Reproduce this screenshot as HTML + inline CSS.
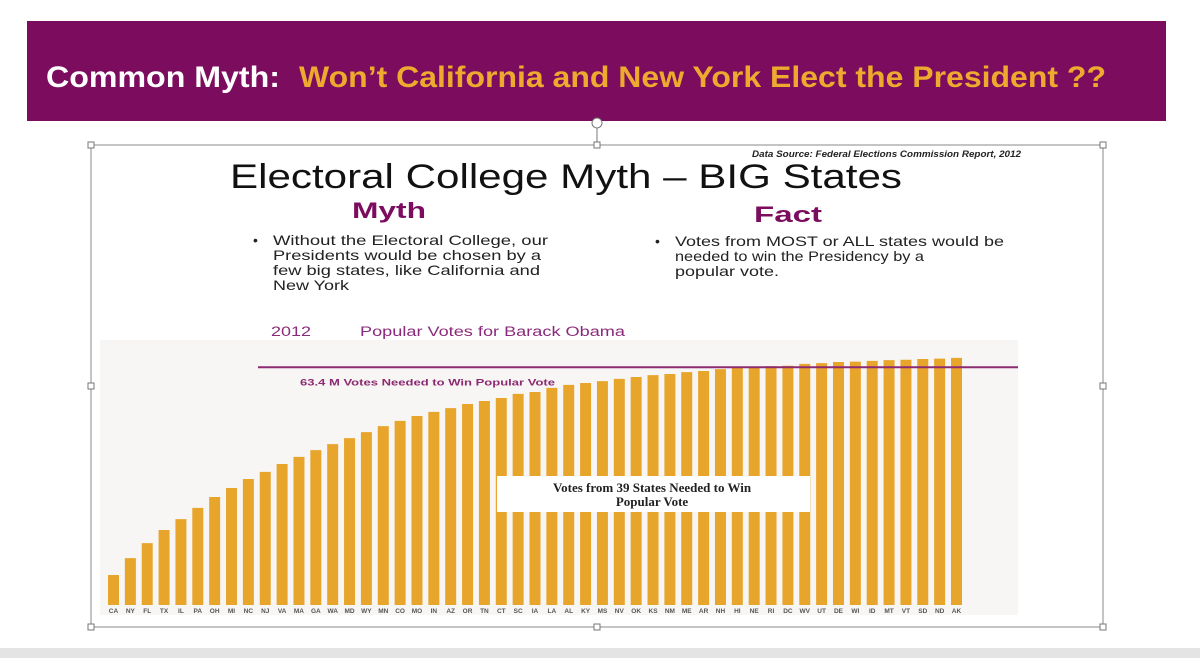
<!DOCTYPE html>
<html><head><meta charset="utf-8"><style>
html,body{margin:0;padding:0;background:#fff;}
svg{display:block;font-family:"Liberation Sans",sans-serif;}
</style></head><body>
<svg id="s" width="1200" height="658" viewBox="0 0 1200 658">
<rect x="0" y="0" width="1200" height="658" fill="#fff"/>
<rect x="0" y="648" width="1200" height="10" fill="#e4e4e4"/>
<rect x="27" y="21" width="1139" height="100" fill="#7b0c5e"/>
<text x="46" y="87" font-size="30" font-weight="bold" fill="#fff" textLength="234" lengthAdjust="spacingAndGlyphs">Common Myth:</text>
<text x="299" y="87" font-size="30" font-weight="bold" fill="#eeaa2e" textLength="807" lengthAdjust="spacingAndGlyphs">Won’t California and New York Elect the President ??</text>
<rect x="91" y="145" width="1012" height="482" fill="#fff" stroke="#888" stroke-width="1"/>
<g fill="#fff" stroke="#777" stroke-width="1">
<rect x="88" y="142" width="6" height="6"/><rect x="594" y="142" width="6" height="6"/><rect x="1100" y="142" width="6" height="6"/>
<rect x="88" y="383" width="6" height="6"/><rect x="1100" y="383" width="6" height="6"/>
<rect x="88" y="624" width="6" height="6"/><rect x="594" y="624" width="6" height="6"/><rect x="1100" y="624" width="6" height="6"/>
<line x1="597" y1="128" x2="597" y2="142"/><circle cx="597" cy="123" r="5"/>
</g>
<text x="752" y="157" font-size="9" font-style="italic" font-weight="bold" fill="#222" textLength="269" lengthAdjust="spacingAndGlyphs">Data Source: Federal Elections Commission Report, 2012</text>
<text x="230" y="188" font-size="34" fill="#111" textLength="672" lengthAdjust="spacingAndGlyphs">Electoral College Myth – BIG States</text>
<text x="352" y="218" font-size="22" font-weight="bold" fill="#7b0c5e" textLength="74" lengthAdjust="spacingAndGlyphs">Myth</text>
<text x="754" y="222" font-size="22" font-weight="bold" fill="#7b0c5e" textLength="68" lengthAdjust="spacingAndGlyphs">Fact</text>
<g font-size="14" fill="#222">
<text x="253" y="245">•</text>
<text x="273" y="245" textLength="275" lengthAdjust="spacingAndGlyphs">Without the Electoral College, our</text>
<text x="273" y="260" textLength="268" lengthAdjust="spacingAndGlyphs">Presidents would be chosen by a</text>
<text x="273" y="275" textLength="267" lengthAdjust="spacingAndGlyphs">few big states, like California and</text>
<text x="273" y="290" textLength="76" lengthAdjust="spacingAndGlyphs">New York</text>
</g>
<g font-size="14" fill="#222">
<text x="655" y="246">•</text>
<text x="675" y="246" textLength="329" lengthAdjust="spacingAndGlyphs">Votes from MOST or ALL states would be</text>
<text x="675" y="261" textLength="249" lengthAdjust="spacingAndGlyphs">needed to win the Presidency by a</text>
<text x="675" y="276" textLength="104" lengthAdjust="spacingAndGlyphs">popular vote.</text>
</g>
<text x="271" y="336" font-size="13.5" fill="#8a2a7a" textLength="40" lengthAdjust="spacingAndGlyphs">2012</text>
<text x="360" y="336" font-size="13.5" fill="#8a2a7a" textLength="265" lengthAdjust="spacingAndGlyphs">Popular Votes for Barack Obama</text>
<rect x="100" y="340" width="918" height="275" fill="#f7f6f4"/>
<g id="bars"></g>
<g id="xlabels" font-size="6.5" font-weight="bold" fill="#555" text-anchor="middle"></g>
<line id="thr" x1="258" x2="1018" stroke="#8c2a72" stroke-width="2"/>
<text id="thrLabel" x="300" font-size="9.5" font-weight="bold" fill="#8c2a72" textLength="255" lengthAdjust="spacingAndGlyphs">63.4 M Votes Needed to Win Popular Vote</text>
<rect x="497" y="476" width="313" height="36" fill="#fff"/>
<g font-family="Liberation Serif, serif" font-size="13" font-weight="bold" fill="#222" text-anchor="middle">
<text x="652" y="492">Votes from 39 States Needed to Win</text>
<text x="652" y="506">Popular Vote</text>
</g>
</svg>
<script>
const states = ["CA","NY","FL","TX","IL","PA","OH","MI","NC","NJ","VA","MA","GA","WA","MD","WY","MN","CO","MO","IN","AZ","OR","TN","CT","SC","IA","LA","AL","KY","MS","NV","OK","KS","NM","ME","AR","NH","HI","NE","RI","DC","WV","UT","DE","WI","ID","MT","VT","SD","ND","AK"];
const cumulativeVotesM = [8.0,12.5,16.5,20.0,22.9,25.9,28.8,31.2,33.6,35.5,37.6,39.5,41.3,42.9,44.5,46.1,47.7,49.1,50.4,51.5,52.5,53.6,54.4,55.2,56.3,56.8,57.9,58.7,59.2,59.7,60.3,60.8,61.3,61.6,62.1,62.4,62.9,63.2,63.5,63.7,63.8,64.3,64.5,64.8,64.9,65.1,65.3,65.4,65.6,65.7,65.9];
const thresholdM = [63.4];
const NS = "http://www.w3.org/2000/svg";
const baseY = 605, pxPerM = 3.75, x0 = 113.5, step = 16.86, bw = 11;
const yScale = v => baseY - v * pxPerM;
const xScale = i => x0 + i * step;
const bars = document.getElementById('bars'), xl = document.getElementById('xlabels');
states.forEach((s, i) => {
  const r = document.createElementNS(NS, 'rect');
  
  
  r.setAttribute('x', xScale(i) - bw / 2);
  r.setAttribute('y', yScale(cumulativeVotesM[i]));
  r.setAttribute('width', bw);
  r.setAttribute('height', baseY - yScale(cumulativeVotesM[i]));
  r.setAttribute('fill', '#e8a52c');
  bars.appendChild(r);
  const t = document.createElementNS(NS, 'text');
  
  
  t.setAttribute('x', xScale(i));
  t.setAttribute('y', 613);
  t.textContent = s;
  xl.appendChild(t);
});
const ty = yScale(thresholdM[0]);
const thr = document.getElementById('thr');
thr.setAttribute('y1', ty); thr.setAttribute('y2', ty);
document.getElementById('thrLabel').setAttribute('y', ty + 18);
</script>
</body></html>
